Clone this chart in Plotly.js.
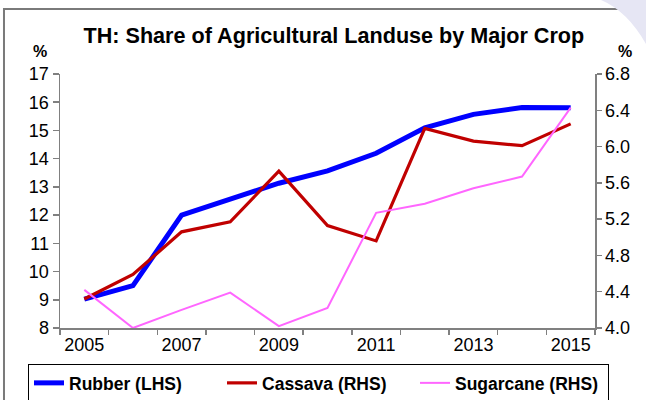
<!DOCTYPE html>
<html>
<head>
<meta charset="utf-8">
<script src="https://cdn.plot.ly/plotly-3.0.1.min.js"></script>
<style>html,body{margin:0;padding:0;background:#fff;}#chart{width:646px;height:400px;}</style>
</head>
<body>
<div id="chart"></div>
<script>
const years = [2005, 2006, 2007, 2008, 2009, 2010, 2011, 2012, 2013, 2014, 2015];
const rubberLHS = [9.02, 9.5, 12.0, 12.57, 13.13, 13.57, 14.19, 15.09, 15.57, 15.81, 15.8];
const cassavaRHS = [4.32, 4.59, 5.06, 5.17, 5.73, 5.13, 4.96, 6.20, 6.06, 6.01, 6.25];
const sugarcaneRHS = [4.42, 4.0, 4.2, 4.39, 4.02, 4.22, 5.27, 5.37, 5.54, 5.67, 6.43];
const xLabelYears = [2005, 2007, 2009, 2011, 2013, 2015];
const leftTicks = [8, 9, 10, 11, 12, 13, 14, 15, 16, 17];
const rightTicks = [4.0, 4.4, 4.8, 5.2, 5.6, 6.0, 6.4, 6.8];

const FONT = '"Liberation Sans", Arial, sans-serif';

const traces = [
  {x: years, y: rubberLHS, name: 'Rubber (LHS)', type: 'scatter', mode: 'lines',
   line: {color: '#0000FF', width: 5}, xaxis: 'x', yaxis: 'y'},
  {x: years, y: cassavaRHS, name: 'Cassava (RHS)', type: 'scatter', mode: 'lines',
   line: {color: '#C00000', width: 3.2}, xaxis: 'x', yaxis: 'y2'},
  {x: years, y: sugarcaneRHS, name: 'Sugarcane (RHS)', type: 'scatter', mode: 'lines',
   line: {color: '#FF66FF', width: 2}, xaxis: 'x', yaxis: 'y2'}
];

const layout = {
  width: 646, height: 400,
  margin: {l: 60, r: 51, t: 74, b: 72, autoexpand: false},
  paper_bgcolor: '#ffffff', plot_bgcolor: '#ffffff',
  font: {family: FONT, color: '#000000'},
  showlegend: true,
  title: {text: '<b>TH: Share of Agricultural Landuse by Major Crop</b>',
          font: {family: FONT, size: 21.6, color: '#000'},
          x: 0.512, xref: 'paper', xanchor: 'center', y: 0.912, yanchor: 'middle'},
  xaxis: {
    range: [2004.5, 2015.5], tickmode: 'array', tickvals: xLabelYears,
    ticktext: xLabelYears.map(String), ticks: '',
    showgrid: false, zeroline: false, showline: true, linecolor: '#808080', linewidth: 1.5,
    tickfont: {family: FONT, size: 18, color: '#000'},
    minor: {ticks: 'outside', tick0: 2004.5, dtick: 1, ticklen: 5, tickwidth: 1.5, tickcolor: '#808080', showgrid: false}
  },
  yaxis: {
    range: [8, 17], tickmode: 'array', tickvals: leftTicks, ticks: 'outside', ticklen: 6,
    tickwidth: 1.5, tickcolor: '#808080',
    showgrid: false, zeroline: false, showline: true, linecolor: '#808080', linewidth: 1.5,
    tickfont: {family: FONT, size: 18, color: '#000'}
  },
  yaxis2: {
    range: [4.0, 6.8], tickmode: 'array', tickvals: rightTicks, tickformat: '.1f',
    overlaying: 'y', side: 'right', anchor: 'x', ticks: 'outside', ticklen: 5,
    tickwidth: 1.5, tickcolor: '#808080',
    showgrid: false, zeroline: false, showline: true, linecolor: '#808080', linewidth: 1.5,
    tickfont: {family: FONT, size: 18, color: '#000'}
  },
  legend: {
    orientation: 'h', x: -0.0598, xanchor: 'left', y: -0.1417, yanchor: 'top',
    bordercolor: '#000', borderwidth: 1, bgcolor: '#fff',
    font: {family: FONT, size: 17.5, color: '#000', weight: 'bold'},
    entrywidth: 148, entrywidthmode: 'pixels', tracegroupgap: 0, itemwidth: 30
  },
  annotations: [
    {text: '<b>%</b>', xref: 'paper', yref: 'paper', x: (40 - 60) / 535, y: (328 - 52) / 254,
     xanchor: 'center', yanchor: 'middle', showarrow: false, font: {family: FONT, size: 16, color: '#000'}},
    {text: '<b>%</b>', xref: 'paper', yref: 'paper', x: (625 - 60) / 535, y: (328 - 52) / 254,
     xanchor: 'center', yanchor: 'middle', showarrow: false, font: {family: FONT, size: 16, color: '#000'}}
  ],
  shapes: [
    {type: 'rect', xref: 'paper', yref: 'paper', x0: -0.1047, x1: 1.12, y0: -0.32, y1: 1.256,
     line: {color: '#7a7a7a', width: 2}, fillcolor: 'rgba(0,0,0,0)', layer: 'below'},
    {type: 'path', xref: 'paper', yref: 'paper', layer: 'above',
     path: 'M 1.0 1.30 Q 1.06 1.26 1.10 1.10 L 1.10 1.30 Z',
     fillcolor: '#E6E6F4', line: {width: 0}}
  ]
};

Plotly.newPlot('chart', traces, layout, {displayModeBar: false, staticPlot: true});
</script>
</body>
</html>
